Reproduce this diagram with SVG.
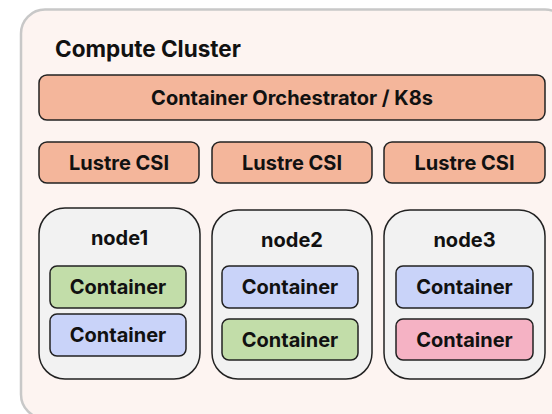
<svg xmlns="http://www.w3.org/2000/svg" width="552" height="414" viewBox="0 0 552 414">
<style>
text{font-family:Inter,"Liberation Sans",sans-serif;font-weight:700;fill:#111;text-anchor:middle;dominant-baseline:central}
.orch{fill:#f4b69b;stroke:#222;stroke-width:1.5}
.node{fill:#f2f2f2;stroke:#222;stroke-width:1.5}
.g{fill:#c2dda9;stroke:#222;stroke-width:1.5}
.b{fill:#c9d3f9;stroke:#222;stroke-width:1.5}
.p{fill:#f5b2c4;stroke:#222;stroke-width:1.5}
.t{font-size:20px}
.ct{font-size:20px}
</style>
<g id="cluster">
<rect x="21" y="9.5" width="548" height="409" rx="24" fill="#fdf4f1" stroke="#c8c8c8" stroke-width="2.5"/>
<text x="55" y="48" style="font-size:22.5px;text-anchor:start">Compute Cluster</text>
</g>
<g id="orchestrator">
<rect class="orch" x="39" y="75" width="506" height="45" rx="8"/>
<text class="t" x="292" y="97.5">Container Orchestrator / K8s</text>
</g>
<g id="csi1"><rect class="orch" x="39" y="142" width="160" height="41" rx="8"/><text class="t" x="119" y="162.5">Lustre CSI</text></g>
<g id="csi2"><rect class="orch" x="212" y="142" width="160" height="41" rx="8"/><text class="t" x="292" y="162.5">Lustre CSI</text></g>
<g id="csi3"><rect class="orch" x="384" y="142" width="161" height="41" rx="8"/><text class="t" x="464.5" y="162.5">Lustre CSI</text></g>
<g id="node1">
<rect class="node" x="39" y="208" width="161" height="171" rx="26"/>
<text class="t" x="119.5" y="237.5">node1</text>
<rect class="g" x="50" y="266" width="136" height="42" rx="7"/><text class="ct" x="118" y="287">Container</text>
<rect class="b" x="50" y="314" width="136" height="42" rx="7"/><text class="ct" x="118" y="335">Container</text>
</g>
<g id="node2">
<rect class="node" x="212" y="210" width="160" height="169" rx="26"/>
<text class="t" x="292" y="239.5">node2</text>
<rect class="b" x="222" y="266" width="136" height="42" rx="7"/><text class="ct" x="290" y="287">Container</text>
<rect class="g" x="222" y="319" width="136" height="41" rx="7"/><text class="ct" x="290" y="339.5">Container</text>
</g>
<g id="node3">
<rect class="node" x="384" y="210" width="161" height="169" rx="26"/>
<text class="t" x="464.5" y="239.5">node3</text>
<rect class="b" x="396" y="266" width="137" height="42" rx="7"/><text class="ct" x="464.5" y="287">Container</text>
<rect class="p" x="396" y="319" width="137" height="41" rx="7"/><text class="ct" x="464.5" y="339.5">Container</text>
</g>
<g id="connectors"/>
</svg>
